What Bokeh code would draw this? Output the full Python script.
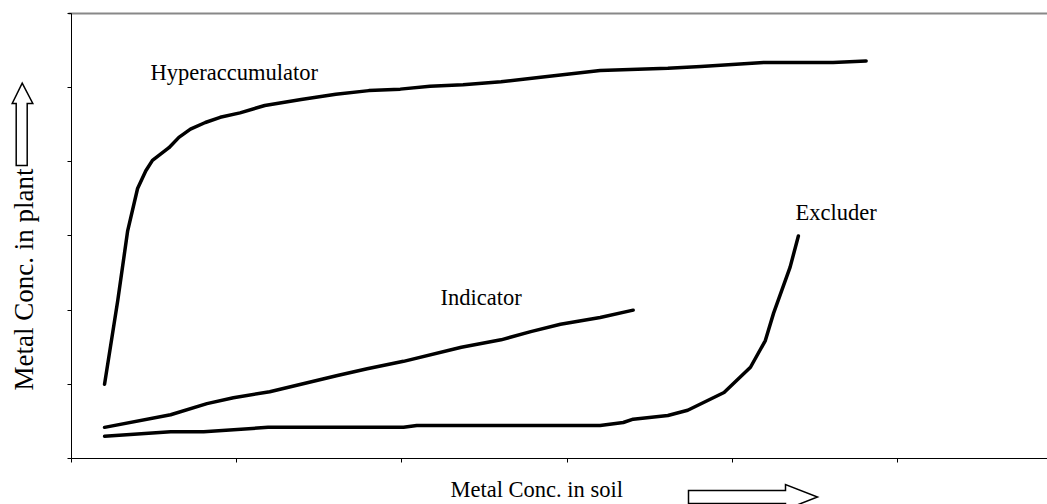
import math
from bokeh.plotting import figure
from bokeh.models import Label, FixedTicker, Range1d, LinearAxis
from bokeh.embed import file_html
from bokeh.resources import INLINE

# ---- data ----
hyper_x = [0.20, 0.28, 0.34, 0.40, 0.45, 0.49, 0.59, 0.65, 0.72, 0.81, 0.90, 1.02,
           1.17, 1.39, 1.60, 1.80, 1.99, 2.17, 2.37, 2.60, 2.84, 3.20, 3.61, 3.81,
           4.19, 4.61, 4.81]
hyper_y = [1.00, 2.13, 3.07, 3.64, 3.88, 4.02, 4.19, 4.33, 4.44, 4.53, 4.60, 4.66,
           4.76, 4.84, 4.91, 4.96, 4.98, 5.02, 5.04, 5.08, 5.14, 5.23, 5.26, 5.285,
           5.34, 5.34, 5.36]

ind_x = [0.20, 0.60, 0.82, 0.98, 1.20, 1.61, 1.79, 2.01, 2.36, 2.60, 2.78, 2.96, 3.20, 3.40]
ind_y = [0.42, 0.59, 0.74, 0.82, 0.90, 1.12, 1.21, 1.31, 1.50, 1.60, 1.71, 1.81, 1.90, 2.00]

exc_x = [0.20, 0.60, 0.80, 1.19, 2.01, 2.09, 3.20, 3.34, 3.40, 3.61, 3.73, 3.95,
         4.11, 4.20, 4.25, 4.30, 4.35, 4.40]
exc_y = [0.30, 0.36, 0.36, 0.42, 0.42, 0.445, 0.445, 0.485, 0.53, 0.58, 0.65, 0.89,
         1.23, 1.59, 1.96, 2.27, 2.58, 3.00]

x_ticks = [0, 1, 2, 3, 4, 5]
y_ticks = [0, 1, 2, 3, 4, 5, 6]

series_names = ["Hyperaccumulator", "Indicator", "Excluder"]
x_title = "Metal Conc. in soil"
y_title = "Metal Conc. in plant"

FONT = "Liberation Serif"

# canvas geometry: axes origin at (71, 458) px, 165.2 px per x unit, 74.17 px per y unit
W, H = 1047, 504
OX, OY, KX, KY = 71, 458, 165.2, 74.17
X_END = (W - OX) / KX
Y_TOP = 6

def dx(px):
    return (px - OX) / KX

def dy(py):
    return (OY - py) / KY

p = figure(width=W, height=H, output_backend="svg", toolbar_location=None,
           x_range=Range1d(dx(0), dx(W)), y_range=Range1d(dy(H), dy(0)),
           min_border_left=0, min_border_right=0, min_border_top=0, min_border_bottom=0)
p.background_fill_color = "white"
p.border_fill_color = "white"
p.outline_line_color = None
p.xgrid.visible = False
p.ygrid.visible = False

p.xaxis.fixed_location = 0
p.xaxis.bounds = (0, X_END)
p.yaxis.fixed_location = 0
p.yaxis.bounds = (0, Y_TOP)

for ax, ticks in ((p.xaxis, x_ticks), (p.yaxis, y_ticks)):
    ax.ticker = FixedTicker(ticks=ticks)
    ax.major_label_overrides = {t: "" for t in ticks}
    ax.major_tick_in = 0
    ax.major_tick_out = 4
    ax.minor_tick_line_color = None
    ax.axis_line_color = "black"
    ax.axis_line_width = 1
    ax.major_tick_line_color = "black"

top = LinearAxis(fixed_location=Y_TOP, bounds=(dx(68), X_END), ticker=FixedTicker(ticks=[]),
                 axis_line_color="#888888", axis_line_width=2,
                 major_tick_line_color=None, minor_tick_line_color=None)
p.add_layout(top, "above")

for xs, ys in ((hyper_x, hyper_y), (ind_x, ind_y), (exc_x, exc_y)):
    p.line(xs, ys, line_color="black", line_width=3.5, line_cap="round", line_join="round")

SHIFT = 7  # Label's alphabetic baseline sits a few px below the anchor
label_pos = [(150, 79), (440, 304), (795, 219)]
for name, (px, py) in zip(series_names, label_pos):
    p.add_layout(Label(x=dx(px), y=dy(py - SHIFT), text=name, text_font=FONT,
                       text_font_size="22.5px", text_color="black",
                       text_align="left", text_baseline="alphabetic"))

p.add_layout(Label(x=dx(450), y=dy(496 - SHIFT), text=x_title, text_font=FONT,
                   text_font_size="22.5px", text_color="black",
                   text_align="left", text_baseline="alphabetic"))
p.add_layout(Label(x=dx(23), y=dy(279), text=y_title, text_font=FONT,
                   text_font_size="27px", text_color="black", angle=math.pi / 2,
                   text_align="center", text_baseline="middle"))

# hollow block arrows next to the axis titles
up = [(21.7, 82.7), (32.3, 103), (26.7, 103), (26.7, 165), (15.7, 165), (15.7, 103), (11.7, 103)]
right = [(688, 490), (785, 490), (785, 484), (817, 496.5), (785, 509), (785, 503), (688, 503)]
for pts in (up, right):
    p.patch([dx(a) for a, b in pts], [dy(b) for a, b in pts],
            fill_color="white", line_color="black", line_width=1.5, line_join="miter")

open("out.html", "w").write(file_html(p, INLINE))
